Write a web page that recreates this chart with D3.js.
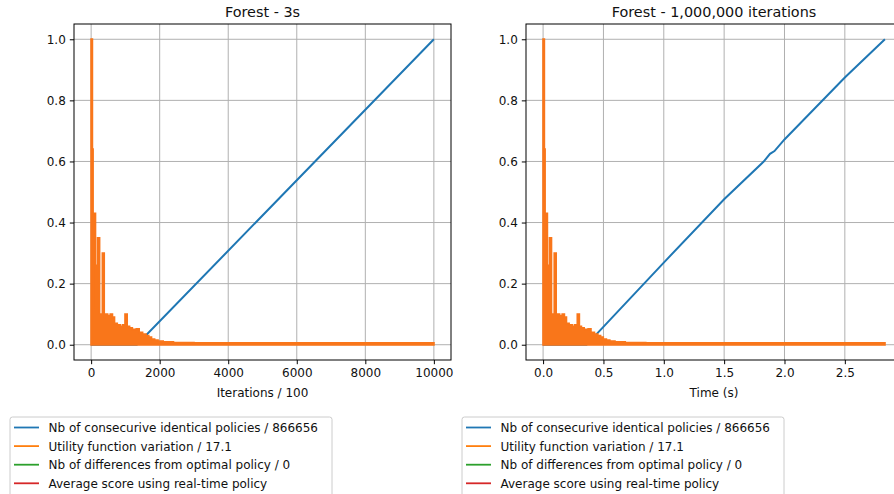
<!DOCTYPE html>
<html>
<head>
<meta charset="utf-8">
<script src="https://cdn.jsdelivr.net/npm/d3@7"></script>
<style>
  body{margin:0;background:#fff;}
  svg{display:block;font-family:"DejaVu Sans",sans-serif;}
</style>
</head>
<body>
<div id="chart"></div>
<script>
// values
var yTicks = [0.0, 0.2, 0.4, 0.6, 0.8, 1.0];
var iterTicks = [0, 2000, 4000, 6000, 8000, 10000];
var timeTicks = [0.0, 0.5, 1.0, 1.5, 2.0, 2.5];

var titles = ["Forest - 3s", "Forest - 1,000,000 iterations"];
var xLabels = ["Iterations / 100", "Time (s)"];

var legendLabels = ["Nb of consecurive identical policies / 866656",
                    "Utility function variation / 17.1",
                    "Nb of differences from optimal policy / 0",
                    "Average score using real-time policy"];
var seriesColors = ["#1f77b4", "#ff7f0e", "#2ca02c", "#d62728"];
var orangeFill = "#f9761a";

// blue : consecutive identical policies (normalised)
var iterBlue = [[0,0],[1333,0],[10000,1.0]];
var timeBlue = [[0,0],[0.36,0],[0.441,0.034],[1.0,0.269],[1.5,0.476],[1.826,0.599],
                [1.88,0.625],[1.917,0.634],[2.0,0.672],[2.5,0.875],[2.832,1.0]];

// orange : utility variation, upper edge of the noisy band
var iterOrange = [[0,1.0],[35,0.64],[55,0.43],[125,0.12],[140,0.26],[160,0.12],
                  [190,0.35],[245,0.10],[330,0.30],[380,0.09],[430,0.10],[480,0.095],
                  [560,0.10],[620,0.09],[680,0.07],[760,0.065],[850,0.06],[920,0.065],
                  [990,0.10],[1050,0.06],[1120,0.055],[1200,0.05],[1320,0.052],[1400,0.04],
                  [1500,0.035],[1600,0.03],[1680,0.025],[1760,0.018],[1850,0.015],[1950,0.012],
                  [2100,0.009],[2400,0.007],[3000,0.006],[10000,0.006]];
var timeOrange = [[0,1.0],[0.010,0.64],[0.016,0.43],[0.035,0.12],[0.040,0.26],[0.045,0.12],
                  [0.054,0.35],[0.069,0.10],[0.093,0.30],[0.108,0.09],[0.122,0.10],[0.136,0.095],
                  [0.159,0.10],[0.176,0.09],[0.193,0.07],[0.215,0.065],[0.241,0.06],[0.261,0.065],
                  [0.284,0.10],[0.300,0.06],[0.317,0.055],[0.340,0.05],[0.374,0.052],[0.396,0.04],
                  [0.425,0.035],[0.453,0.03],[0.476,0.025],[0.498,0.018],[0.524,0.015],[0.552,0.012],
                  [0.595,0.009],[0.680,0.007],[0.850,0.006],[2.832,0.006]];

var width = 894, height = 494;
var svg = d3.select("#chart").append("svg").attr("width", width).attr("height", height);

function drawPanel(p){
    var x = d3.scaleLinear().domain(p.xDomain).range([p.left, p.right]);
    var y = d3.scaleLinear().domain([-0.05, 1.05]).range([360, 24]);
    var g = svg.append("g");

    // grid
    g.selectAll(".gx").data(p.xTicks).enter().append("line")
        .attr("x1", function(d){return x(d);}).attr("x2", function(d){return x(d);})
        .attr("y1", 24).attr("y2", 360)
        .attr("stroke", "#b0b0b0").attr("stroke-width", 1);
    g.selectAll(".gy").data(yTicks).enter().append("line")
        .attr("x1", p.left).attr("x2", p.right)
        .attr("y1", function(d){return y(d);}).attr("y2", function(d){return y(d);})
        .attr("stroke", "#b0b0b0").attr("stroke-width", 1);

    var line = d3.line().x(function(d){return x(d[0]);}).y(function(d){return y(d[1]);});
    g.append("path").datum(p.blue).attr("d", line)
        .attr("fill", "none").attr("stroke", seriesColors[0]).attr("stroke-width", 2);

    var area = d3.area().curve(d3.curveStepAfter)
        .x(function(d){return x(d[0]);})
        .y0(y(0)).y1(function(d){return y(d[1]);});
    g.append("path").datum(p.orange).attr("d", area)
        .attr("fill", orangeFill).attr("stroke", orangeFill).attr("stroke-width", 1.8);

    // frame
    g.append("rect").attr("x", p.left).attr("y", 24)
        .attr("width", p.right - p.left).attr("height", 336)
        .attr("fill", "none").attr("stroke", "#000").attr("stroke-width", 1);

    var xa = g.append("g").attr("transform", "translate(0,360)")
        .call(d3.axisBottom(x).tickValues(p.xTicks).tickFormat(p.fmt).tickSize(4.2).tickPadding(4));
    var ya = g.append("g").attr("transform", "translate(" + p.left + ",0)")
        .call(d3.axisLeft(y).tickValues(yTicks).tickFormat(d3.format(".1f")).tickSize(4.2).tickPadding(4));
    [xa, ya].forEach(function(a){
        a.select(".domain").remove();
        a.selectAll("text").attr("font-size", 12).attr("font-family", "DejaVu Sans").attr("fill", "#111");
    });

    var cx = (p.left + p.right) / 2;
    g.append("text").attr("x", cx).attr("y", 17).attr("text-anchor", "middle")
        .attr("font-size", 14.4).attr("fill", "#111").text(p.title);
    g.append("text").attr("x", cx).attr("y", 397).attr("text-anchor", "middle")
        .attr("font-size", 12).attr("fill", "#111").text(p.xLabel);

    // legend
    var lx = p.left - 64;
    var lg = g.append("g");
    lg.append("rect").attr("x", lx).attr("y", 417).attr("width", 322).attr("height", 86)
        .attr("rx", 2.5).attr("fill", "#fff").attr("stroke", "#cccccc").attr("stroke-width", 1);
    legendLabels.forEach(function(lbl, i){
        var ly = 427.5 + i * 18.6;
        lg.append("line").attr("x1", lx + 4).attr("x2", lx + 29).attr("y1", ly).attr("y2", ly)
            .attr("stroke", seriesColors[i]).attr("stroke-width", 1.8);
        lg.append("text").attr("x", lx + 38.5).attr("y", ly + 4.5)
            .attr("font-size", 12).attr("fill", "#111").text(lbl);
    });
}

drawPanel({left:74, right:451, xDomain:[-500, 10500], xTicks:iterTicks, fmt:d3.format("d"),
           blue:iterBlue, orange:iterOrange, title:titles[0], xLabel:xLabels[0]});
drawPanel({left:526, right:902, xDomain:[-0.1416, 2.9736], xTicks:timeTicks, fmt:d3.format(".1f"),
           blue:timeBlue, orange:timeOrange, title:titles[1], xLabel:xLabels[1]});
</script>
</body>
</html>
